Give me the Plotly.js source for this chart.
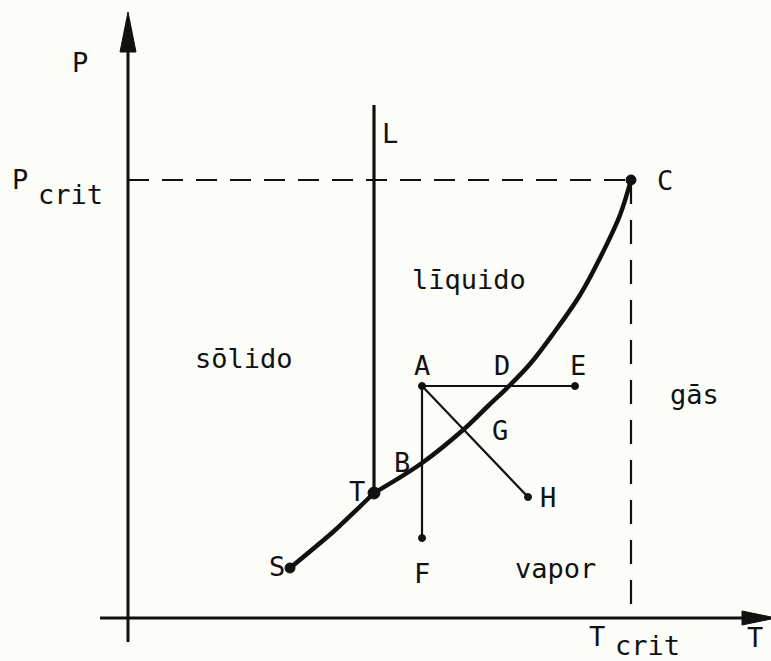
<!DOCTYPE html>
<html>
<head>
<meta charset="utf-8">
<script src="https://cdn.plot.ly/plotly-3.0.1.min.js"></script>
<style>
  html, body { margin: 0; padding: 0; background: #fcfcf8; }
  #chart { width: 771px; height: 661px; }
</style>
</head>
<body>
<div id="chart"></div>
<script>
// ---- data (arbitrary T / P units) ----
const curveT = [16.2, 20.5, 24.6, 29.4, 33.5, 35.9, 38.1, 40.2, 42.5, 45.2, 47.5, 49.2, 50.3];
const curveP = [5.0, 8.6, 12.5, 15.5, 18.8, 21.1, 23.2, 25.4, 28.4, 32.3, 36.6, 40.3, 43.8];
const meltT = [24.6, 24.6];
const meltP = [12.5, 51.3];
const Tcrit = 50.3, Pcrit = 43.8;
const pointNames = ["S", "T", "C", "A", "E", "F", "H"];
const pointT = [16.2, 24.6, 50.3, 29.4, 44.7, 29.4, 40.0];
const pointP = [5.0, 12.5, 43.8, 23.2, 23.2, 8.0, 12.1];
const processFrom = "A";
const processTo = ["E", "F", "H"];
const regionNames = ["sōlido", "līquido", "vapor", "gās"];

// axis extents (decoration)
const axisTmin = -2.8, axisTmax = 64.8;
const axisPmin = -2.4, axisPmax = 60.6;

const ptIndex = n => pointNames.indexOf(n);
const pt = n => [pointT[ptIndex(n)], pointP[ptIndex(n)]];

const ink = "#111111";
const traces = [];

// axes
traces.push({x: [0, 0], y: [axisPmin, axisPmax - 2], mode: "lines",
  line: {color: ink, width: 3}, hoverinfo: "skip"});
traces.push({x: [axisTmin, axisTmax - 2], y: [0, 0], mode: "lines",
  line: {color: ink, width: 3}, hoverinfo: "skip"});
// arrowheads
const yHeadLen = 4.0, yHeadHalf = 0.8, xHeadLen = 3.4, xHeadHalf = 0.7;
traces.push({x: [0, -yHeadHalf, yHeadHalf, 0], y: [axisPmax, axisPmax - yHeadLen, axisPmax - yHeadLen, axisPmax],
  mode: "lines", fill: "toself", fillcolor: ink, line: {color: ink, width: 1}, hoverinfo: "skip"});
traces.push({x: [axisTmax, axisTmax - xHeadLen, axisTmax - xHeadLen, axisTmax], y: [0, xHeadHalf, -xHeadHalf, 0],
  mode: "lines", fill: "toself", fillcolor: ink, line: {color: ink, width: 1}, hoverinfo: "skip"});

// dashed critical lines
traces.push({x: [0, Tcrit], y: [Pcrit, Pcrit], mode: "lines",
  line: {color: ink, width: 2.2, dash: "21px,13px"}, hoverinfo: "skip"});
traces.push({x: [Tcrit, Tcrit], y: [Pcrit, 0], mode: "lines",
  line: {color: ink, width: 2.2, dash: "24px,16px"}, hoverinfo: "skip"});

// process lines from A
processTo.forEach(n => {
  const a = pt(processFrom), b = pt(n);
  traces.push({x: [a[0], b[0]], y: [a[1], b[1]], mode: "lines",
    line: {color: ink, width: 2.2}, hoverinfo: "skip"});
});

// fusion line T-L
traces.push({x: meltT, y: meltP, mode: "lines",
  line: {color: ink, width: 3.2}, hoverinfo: "skip"});

// sublimation curve S-T and vaporisation curve T-C
const iT = curveT.indexOf(pointT[ptIndex("T")]);
traces.push({x: curveT.slice(0, iT + 1), y: curveP.slice(0, iT + 1), mode: "lines",
  line: {color: ink, width: 4.5, shape: "spline", smoothing: 0.6}, hoverinfo: "skip"});
traces.push({x: curveT.slice(iT), y: curveP.slice(iT), mode: "lines",
  line: {color: ink, width: 4.5, shape: "spline", smoothing: 1}, hoverinfo: "skip"});

// points
const big = ["S", "T", "C"];
traces.push({x: pointT, y: pointP, mode: "markers", opacity: 1,
  marker: {color: ink, opacity: 1, line: {color: ink, width: 1},
    size: pointNames.map(n => n === "T" ? 12 : (big.includes(n) ? 10 : 7))},
  hoverinfo: "skip", cliponaxis: false});

const font = {family: "DejaVu Sans Mono", size: 27, color: ink};
const ann = (text, x, y, extra) => Object.assign({text, x, y, xref: "x", yref: "y",
  showarrow: false, font, xanchor: "center", yanchor: "middle"}, extra || {});

const annotations = [
  // axis labels
  ann("P", -4.8, 55.6),
  ann("P", -10.8, 43.9),
  ann("crit", -5.8, 42.4),
  ann("T", 46.9, -1.8),
  ann("crit", 51.9, -2.7),
  ann("T", 62.7, -1.9),
  // point labels
  ann("C", 53.7, 43.8),
  ann("L", 26.2, 48.5),
  ann("A", 29.4, 25.3),
  ann("D", 37.4, 25.3),
  ann("E", 45.0, 25.3),
  ann("G", 37.2, 18.8),
  ann("B", 27.4, 15.6),
  ann("T", 22.9, 12.7),
  ann("H", 42.0, 12.1),
  ann("S", 14.9, 5.2),
  ann("F", 29.4, 4.5),
  // regions
  ann(regionNames[0], 11.6, 26.0),
  ann(regionNames[1], 34.1, 33.9),
  ann(regionNames[2], 42.7, 5.0),
  ann(regionNames[3], 56.6, 22.4)
];

const layout = {
  width: 771, height: 661,
  margin: {l: 0, r: 0, t: 0, b: 0},
  paper_bgcolor: "#fcfcf8", plot_bgcolor: "#fcfcf8",
  showlegend: false,
  xaxis: {range: [-12.8, 64.3], visible: false, fixedrange: true},
  yaxis: {range: [-4.3, 61.8], visible: false, fixedrange: true},
  annotations
};

Plotly.newPlot("chart", traces, layout, {displayModeBar: false, staticPlot: true});
</script>
</body>
</html>
